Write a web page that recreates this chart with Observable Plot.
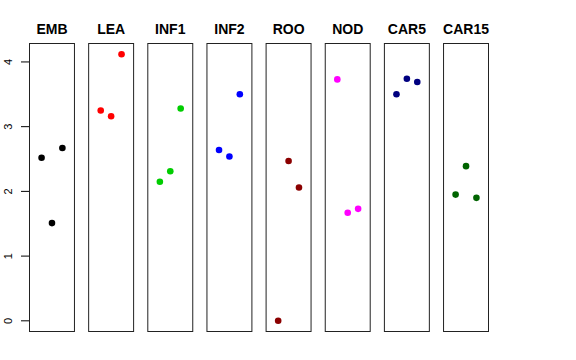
<!DOCTYPE html>
<html>
<head>
<meta charset="utf-8">
<script src="https://cdn.jsdelivr.net/npm/d3@7"></script>
<script src="https://cdn.jsdelivr.net/npm/@observablehq/plot@0.6"></script>
<style>
  html, body { margin: 0; padding: 0; background: #fff; }
  #chart { width: 576px; height: 360px; }
</style>
</head>
<body>
<div id="chart"></div>
<script>
const categories = ["EMB", "LEA", "INF1", "INF2", "ROO", "NOD", "CAR5", "CAR15"];
const colors = ["#000000", "#FF0000", "#00CD00", "#0000FF", "#8B0000", "#FF00FF", "#000080", "#006400"];
const positions = [1, 2, 3];
const EMB = [2.52, 1.51, 2.67];
const LEA = [3.25, 3.16, 4.12];
const INF1 = [2.15, 2.31, 3.28];
const INF2 = [2.64, 2.54, 3.50];
const ROO = [0.00, 2.47, 2.06];
const NOD = [3.73, 1.67, 1.73];
const CAR5 = [3.50, 3.74, 3.69];
const CAR15 = [1.95, 2.39, 1.90];
const yTicks = [0, 1, 2, 3, 4];

const seriesValues = [EMB, LEA, INF1, INF2, ROO, NOD, CAR5, CAR15];
const rows = [];
categories.forEach((c, i) => {
  seriesValues[i].forEach((v, j) => {
    rows.push({cat: c, pos: positions[j], value: v, color: colors[i]});
  });
});

const chart = Plot.plot({
  width: 576,
  height: 360,
  marginLeft: 29,
  marginRight: 88,
  marginTop: 43,
  marginBottom: 29,
  style: {fontFamily: "Liberation Sans, Arial, sans-serif", background: "white"},
  fx: {domain: categories, paddingInner: 0.24, paddingOuter: 0, round: false},
  x: {domain: [-0.16, 4.16], axis: null},
  y: {domain: [-0.165, 4.285]},
  marks: [
    Plot.frame({stroke: "#222", strokeWidth: 1}),
    Plot.axisFx({anchor: "top", tickSize: 0, tickPadding: 10, label: null, fontSize: 14, fontWeight: "bold", fill: "black"}),
    Plot.axisY({ticks: yTicks, tickFormat: d3.format("d"), tickSize: 8, tickPadding: 10, tickRotate: -90, label: null, fontSize: 11, facetAnchor: "left", stroke: "black", fill: "black"}),
    Plot.dot(rows, {fx: "cat", x: "pos", y: "value", fill: "color", r: 3.3, stroke: null})
  ]
});
document.getElementById("chart").appendChild(chart);
</script>
</body>
</html>
